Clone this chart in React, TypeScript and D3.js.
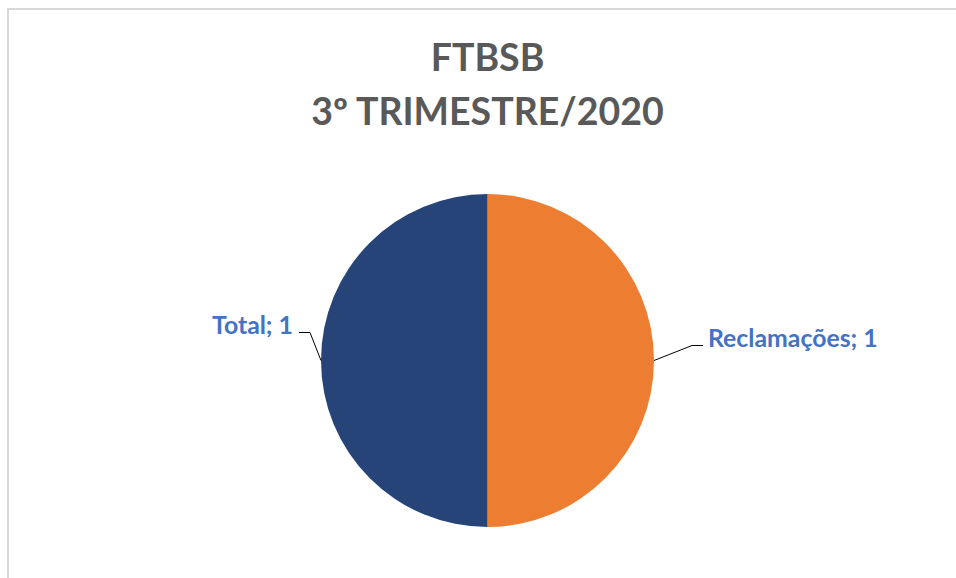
import React from "react";
import * as d3 from "d3";

const categories = ["Reclamações", "Total"];
const values = [1, 1];
const colors = ["#ED7D31", "#264478"];
const titleLines = ["FTBSB", "3º TRIMESTRE/2020"];

const W = 956;
const H = 578;
const cx = 487.5;
const cy = 360.5;
const R = 166.5;

export default function App() {
  const pie = d3
    .pie<number>()
    .sort(null)
    .startAngle(0)
    .endAngle(2 * Math.PI)
    .value((d) => d);
  const arcs = pie(values);
  const arc = d3.arc<d3.PieArcDatum<number>>().innerRadius(0).outerRadius(R);

  return (
    <div style={{ position: "absolute", left: 0, top: 0 }}>
      <svg width={W} height={H} style={{ display: "block", background: "#fff" }}>
        <rect x={8} y={9} width={1000} height={1000} fill="#fff" stroke="#d9d9d9" strokeWidth={2} />
        <g fontFamily="Lato, 'Open Sans', sans-serif" fontWeight="bold" fill="#595959" textAnchor="middle">
          {titleLines.map((t, i) => (
            <text key={i} x={cx} y={71 + i * 54} fontSize={37.5}>
              {t}
            </text>
          ))}
        </g>
        <g transform={`translate(${cx},${cy})`}>
          {arcs.map((a, i) => (
            <path key={i} d={arc(a) || ""} fill={colors[i]} />
          ))}
          {arcs.map((a, i) => {
            const mid = (a.startAngle + a.endAngle) / 2;
            const ax = Math.sin(mid) * R;
            const ay = -Math.cos(mid) * R;
            const right = Math.sin(mid) > 0;
            const elbowX = right ? ax + 38 : ax - 11;
            const elbowY = right ? ay - 15 : ay - 28;
            const endX = right ? elbowX + 11 : elbowX - 11;
            const tx = right ? endX + 5 : endX - 6;
            return (
              <g key={"l" + i}>
                <polyline
                  points={`${ax},${ay} ${elbowX},${elbowY} ${endX},${elbowY}`}
                  fill="none"
                  stroke="#000"
                  strokeWidth={1}
                />
                <text
                  x={tx}
                  y={elbowY + 1}
                  textAnchor={right ? "start" : "end"}
                  fontFamily="Lato, 'Open Sans', sans-serif"
                  fontWeight="bold"
                  fontSize={24.8}
                  fill="#4472C4"
                >
                  {`${categories[i]}; ${values[i]}`}
                </text>
              </g>
            );
          })}
        </g>
      </svg>
    </div>
  );
}
